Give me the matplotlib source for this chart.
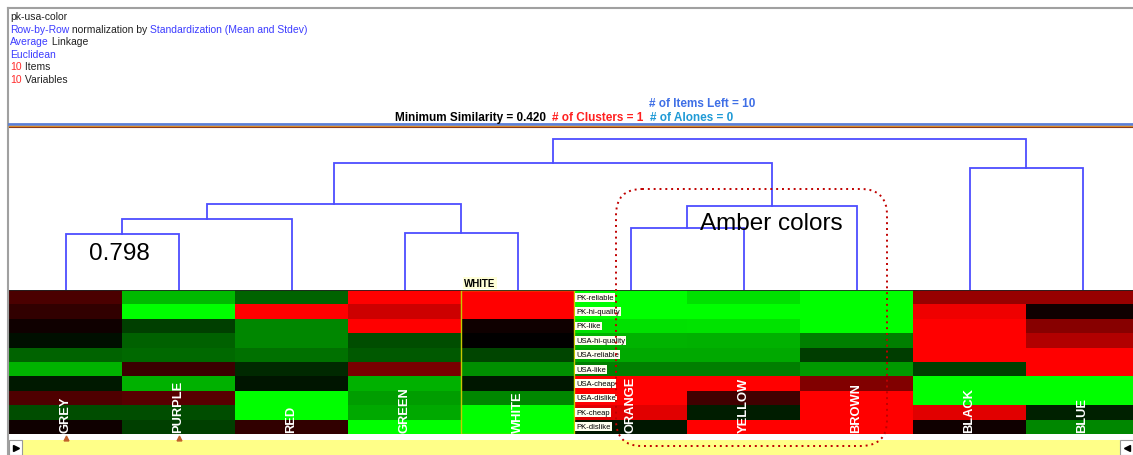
import matplotlib.pyplot as plt
import numpy as np
from matplotlib.colors import LinearSegmentedColormap
from matplotlib.patches import FancyBboxPatch, Rectangle

plt.rcParams['font.family'] = ['Liberation Sans', 'DejaVu Sans']

items = ['GREY', 'PURPLE', 'RED', 'GREEN', 'WHITE', 'ORANGE', 'YELLOW', 'BROWN', 'BLACK', 'BLUE']
variables = ['PK-reliable', 'PK-hi-quality', 'PK-like', 'USA-hi-quality', 'USA-reliable',
             'USA-like', 'USA-cheap', 'USA-dislike', 'PK-cheap', 'PK-dislike']

# row-standardized values (red = high, green = low), in variable order
grey   = [0.29, 0.19, 0.06, -0.06, -0.39, -0.70, -0.10, 0.31, -0.30, 0.06]
purple = [-0.72, -1.00, -0.25, -0.38, -0.41, 0.23, -0.69, 0.34, -0.30, -0.25]
red    = [-0.39, 1.00, -0.53, -0.53, -0.44, -0.16, -0.08, -1.00, -1.00, 0.19]
green  = [1.00, 0.80, 1.00, -0.30, -0.35, 0.47, -0.69, -0.61, -0.66, -1.00]
white  = [1.00, 1.00, 0.06, 0.00, -0.27, -0.56, -0.09, -0.53, -1.00, -1.00]
orange = [-1.00, -1.00, -0.88, -0.70, -0.66, -0.50, 1.00, 1.00, 0.88, -0.09]
yellow = [-0.88, -1.00, -0.89, -0.69, -0.66, -0.50, 1.00, 0.25, -0.11, 1.00]
brown  = [-1.00, -1.00, -1.00, -0.50, -0.24, -0.60, 0.50, 1.00, 1.00, 1.00]
black  = [0.59, 0.93, 1.00, 1.00, 1.00, -0.25, -1.00, -1.00, 0.88, 0.06]
blue   = [0.59, 0.06, 0.53, 0.69, 1.00, 1.00, -1.00, -1.00, -0.13, -0.53]

# dendrogram merges: (left node, right node, similarity); leaves are 0..9, clusters get 10, 11, ...
merges = [(0, 1, 0.798), (10, 2, 0.737), (3, 4, 0.793), (11, 12, 0.678),
          (5, 6, 0.773), (14, 7, 0.687), (13, 15, 0.515), (8, 9, 0.537), (16, 17, 0.420)]

W, H = 1133, 456
fig = plt.figure(figsize=(W / 100, H / 100), dpi=100)

# overlay in pixel coordinates for the frame / header text
ov = fig.add_axes([0, 0, 1, 1], zorder=5)
ov.set_xlim(0, W)
ov.set_ylim(H, 0)
ov.axis('off')
ov.patch.set_alpha(0)

col_w = 113
x0 = 9
ncols_visible = (W - x0) / col_w

# heatmap
data = np.array([grey, purple, red, green, white, orange, yellow, brown, black, blue]).T
cmap = LinearSegmentedColormap.from_list('gr', ['#00ff00', '#000000', '#ff0000'])
hm = fig.add_axes([x0 / W, (H - 435) / H, (W - x0) / W, 144 / H])
hm.pcolormesh(np.arange(11), np.arange(11), data, cmap=cmap, vmin=-1, vmax=1)
hm.set_xlim(0, ncols_visible)
hm.set_ylim(10, 0)
hm.axis('off')
for i, name in enumerate(items):
    hm.text(i + 0.5, 9.85, name, rotation=90, ha='center', va='bottom', color='white',
            fontsize=9.3, fontweight='bold')
for j, v in enumerate(variables):
    hm.text(5.02, j + 0.5, v, ha='left', va='center', fontsize=5.5, color='black',
            bbox=dict(boxstyle='square,pad=0.12', fc='#fffff0', ec='none'))
hm.add_patch(Rectangle((4, 0), 1, 10, fill=False, ec='#c8c800', lw=1))
hm.axhline(0, color='#222222', lw=1.2)

# dendrogram
dg = fig.add_axes([x0 / W, (H - 291) / H, (W - x0) / W, (291 - 130) / H])
sim_bottom, sim_top = 1.0202, 0.3816
dg.set_xlim(0, ncols_visible)
dg.set_ylim(sim_bottom, sim_top)
dg.axis('off')
node_x = {i: i + 0.5 for i in range(len(items))}
node_y = {i: sim_bottom for i in range(len(items))}
for k, (a, b, s) in enumerate(merges):
    n = len(items) + k
    dg.plot([node_x[a], node_x[a], node_x[b], node_x[b]],
            [node_y[a], s, s, node_y[b]], color='#4d4dff', lw=1.3, solid_joinstyle='miter')
    node_x[n] = (node_x[a] + node_x[b]) / 2
    node_y[n] = s

# frame and separators
ov.plot([8, 8], [9, H], color='#a0a0a0', lw=1.5)
ov.plot([8, W], [9, 9], color='#a0a0a0', lw=1.5)
ov.plot([9, W], [125, 125], color='#5a7fd8', lw=2)
ov.plot([9, W], [127.2, 127.2], color='#e0902a', lw=1)
ov.plot([9, W], [128.4, 128.4], color='#8b3a1a', lw=0.8)

renderer = fig.canvas.get_renderer()


def colored_line(x, y, parts, **kw):
    for s, c in parts:
        t = ov.text(x, y, s, color=c, ha='left', va='center', **kw)
        x += t.get_window_extent(renderer=renderer).width


blue_t, red_t = '#3c3cff', '#ff2a2a'
fs = 7.5
colored_line(10, 17, [('pk-usa-color', '#222222')], fontsize=fs)
colored_line(10, 30, [('Row-by-Row', blue_t), (' normalization by ', '#222222'),
                      ('Standardization (Mean and Stdev)', blue_t)], fontsize=fs)
colored_line(10, 42, [('Average', blue_t), (' Linkage', '#222222')], fontsize=fs)
colored_line(10, 55, [('Euclidean', blue_t)], fontsize=fs)
colored_line(10, 67, [('10', red_t), (' Items', '#222222')], fontsize=fs)
colored_line(10, 80, [('10', red_t), (' Variables', '#222222')], fontsize=fs)

colored_line(649, 104, [('# of Items Left = 10', '#3f6fe6')], fontsize=8.5, fontweight='bold')
colored_line(395, 118, [('Minimum Similarity = 0.420  ', 'black'), ('# of Clusters = 1  ', '#ff2020'),
                        ('# of Alones = 0', '#1f9ad6')], fontsize=8.5, fontweight='bold')

# annotations
ov.text(89, 254, '0.798', fontsize=17.5, va='center', ha='left', color='black')
ov.text(700, 224, 'Amber colors', fontsize=17.5, va='center', ha='left', color='black')
ov.text(480, 284, 'WHITE', fontsize=7, fontweight='bold', ha='center', va='center',
        bbox=dict(boxstyle='square,pad=0.1', fc='#ffffd8', ec='none'))

# bottom scroll bar
ov.add_patch(Rectangle((22, 441), 1098, 15, fc='#ffff88', ec='none'))
ov.add_patch(Rectangle((9, 441), 13, 15, fc='white', ec='#999999', lw=0.8))
ov.plot(15.5, 449, marker='>', color='black', ms=5)
ov.add_patch(Rectangle((1120, 441), 13, 15, fc='white', ec='#999999', lw=0.8))
ov.plot(1127, 449, marker='<', color='black', ms=5)
for i in (0, 1):
    ov.plot(x0 + (i + 0.5) * col_w, 439.5, marker='^', color='#c0602a', ms=3.5)

# dotted highlight around the amber group, drawn over everything
ov.add_patch(FancyBboxPatch((616, 190), 271, 257, boxstyle='round,pad=0,rounding_size=26',
                            fill=False, ec='#c00000', lw=1.4, ls=(0, (1, 2)), zorder=10))

fig.savefig('out.png', dpi=100)
